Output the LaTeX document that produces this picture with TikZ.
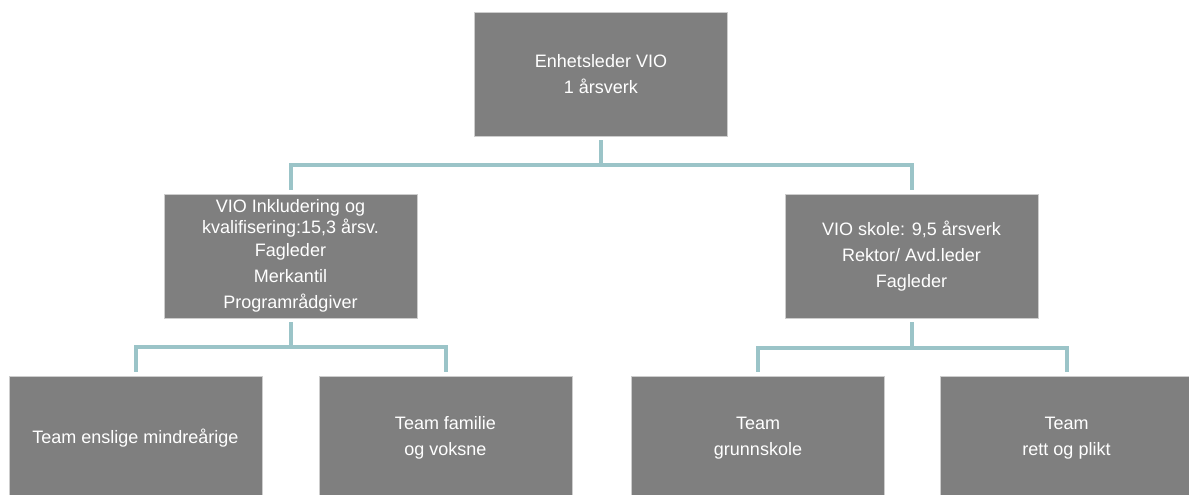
\documentclass[tikz,border=0pt]{standalone}
\usepackage{fontspec}
\setmainfont{Liberation Sans}
\definecolor{boxgray}{RGB}{127,127,127}
\definecolor{linkteal}{RGB}{155,196,200}
\definecolor{edgegray}{RGB}{205,205,205}

\begin{document}
\begin{tikzpicture}[x=1pt,y=-1pt,
		unit/.style={rectangle,draw=edgegray,line width=0.8pt,fill=boxgray,text=white,inner sep=0pt,
			minimum width=253pt,minimum height=124pt,align=center,font=\fontsize{18}{26}\selectfont},
		link/.style={draw=linkteal,line width=4pt}]
		\useasboundingbox (0,0) rectangle (1189,495);
		\clip (0,0) rectangle (1189,495);
		\node[unit] (leder) at (601,74) {Enhetsleder VIO\\1 årsverk};
		\node[unit] (inkl) at (290.5,256) {VIO Inkludering og\\[-5pt]kvalifisering:15,3 årsv.\\[-3pt]Fagleder\\Merkantil\\Programrådgiver};
		\node[unit] (skole) at (911.5,256) {VIO skole: 9,5 årsverk\\Rektor/ Avd.leder\\Fagleder};
		\node[unit] (enslige) at (135.5,438) {Team enslige mindreårige};
		\node[unit] (familie) at (445.5,438) {Team familie\\og voksne};
		\node[unit] (grunn) at (758,438) {Team\\grunnskole};
		\node[unit] (plikt) at (1066.5,438) {Team\\rett og plikt};
		\coordinate (j1) at (601,165);
		\coordinate (j2) at (290.5,347);
		\coordinate (j3) at (911.5,348);
		\draw[link,shorten <=4pt] (leder.south) -- (j1);
		\draw[link,shorten <=4pt,shorten >=4pt] (inkl.north) |- (j1) -| (skole.north);
		\draw[link,shorten <=4pt] (inkl.south) -- (j2);
		\draw[link,shorten <=4pt,shorten >=4pt] (enslige.north) |- (j2) -| (familie.north);
		\draw[link,shorten <=4pt] (skole.south) -- (j3);
		\draw[link,shorten <=4pt,shorten >=4pt] (grunn.north) |- (j3) -| (plikt.north);
	\end{tikzpicture}
\end{document}
